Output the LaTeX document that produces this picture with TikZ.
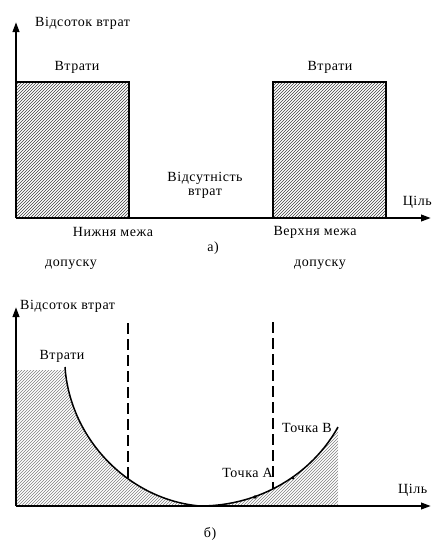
\documentclass[tikz,border=0pt]{standalone}
\usepackage{fontspec}
\setmainfont{Liberation Serif}
\newfontfamily\lblfont[LetterSpace=4]{Liberation Serif}
\usetikzlibrary{patterns,arrows.meta}
\begin{document}
\begin{tikzpicture}[x=1pt,y=-1pt,
  axis/.style={line width=2.2pt,-{Triangle[length=10pt,width=6.5pt]}},
  lbl/.style={inner sep=0pt,font=\lblfont\fontsize{14}{16}\selectfont},
  hatchbox/.style={draw,line width=1.2pt,pattern=north east lines,pattern color=black!75},
  curveline/.style={line width=1.5pt},
  limit/.style={line width=2.6pt,dash pattern=on 11pt off 5pt}]
\useasboundingbox (0,0) rectangle (433,542);
% ---------- panel a ----------
\coordinate (oa) at (16,218);
\coordinate (ya) at (16,22);
\coordinate (xa) at (431,218);
\fill[pattern=north east lines,pattern color=black!75] (16,82) rectangle (129,218);
\draw[line width=1.2pt] (16,82) -- (129,82) -- (129,218);
\draw[hatchbox] (273,82) rectangle (386,218);
\draw[axis] (oa) -- (ya);
\draw[axis] (oa) -- (xa);
\node[lbl,anchor=west] (ta) at (35,23) {Відсоток втрат};
\node[lbl] (l1) at (77,67) {Втрати};
\node[lbl] (l2) at (330,67) {Втрати};
\node[lbl] (n1) at (205,178) {Відсутність};
\node[lbl] (n2) at (205,194) {втрат};
\node[lbl,anchor=east] (ca) at (432,202) {Ціль};
\node[lbl] (lo) at (113,232) {Нижня межа};
\node[lbl] (up) at (315,232) {Верхня межа};
\node[lbl] (pa) at (213,248) {а)};
\node[lbl] (d1) at (71,265) {допуску};
\node[lbl] (d2) at (320,265) {допуску};
% ---------- panel b ----------
\coordinate (ob) at (16,506);
\coordinate (yb) at (16,307);
\coordinate (xb) at (431,506);
\coordinate (c0) at (65,367);
\coordinate (cm) at (200,506);
\coordinate (c1) at (338,427);
\fill[pattern=north east lines,pattern color=gray] (16,506) -- (16,370) -- (65,370)
  .. controls (70,440) and (130,500) .. (cm)
  .. controls (260,506) and (312,474) .. (c1) -- (338,506) -- cycle;
\draw[curveline] (c0) .. controls (70,440) and (130,500) .. (cm)
  .. controls (260,506) and (312,474) .. (c1);
\coordinate (da1) at (128,323);
\coordinate (da2) at (128,482);
\coordinate (db1) at (273,322);
\coordinate (db2) at (273,489);
\draw[limit] (da1) -- (da2);
\draw[limit] (db1) -- (db2);
\fill (255,497) circle (1.8pt) coordinate (pA);
\fill (293,478) circle (1.5pt) coordinate (pB);
\draw[axis] (ob) -- (yb);
\draw[axis] (ob) -- (xb);
\node[lbl,anchor=west] (tb) at (20,306) {Відсоток втрат};
\node[lbl] (l3) at (62,356) {Втрати};
\node[lbl,anchor=east] (tA) at (273,473) {Точка А};
\node[lbl] (tB) at (307,428) {Точка В};
\node[lbl,anchor=west] (cb) at (398,490) {Ціль};
\node[lbl] (pb) at (210,534) {б)};
\end{tikzpicture}
\end{document}
